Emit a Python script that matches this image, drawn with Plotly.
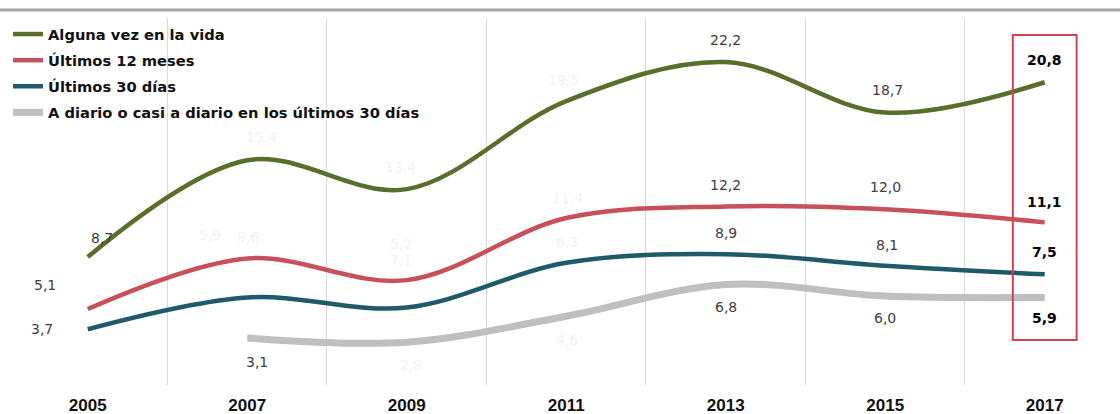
import plotly.graph_objects as go

# Survey years and prevalence (%) by consumption period
years = ["2005", "2007", "2009", "2011", "2013", "2015", "2017"]
alguna_vez = [8.7, 15.4, 13.4, 19.5, 22.2, 18.7, 20.8]
ultimos_12 = [5.1, 8.6, 7.1, 11.4, 12.2, 12.0, 11.1]
ultimos_30 = [3.7, 5.9, 5.2, 8.3, 8.9, 8.1, 7.5]
diario = [None, 3.1, 2.8, 4.6, 6.8, 6.0, 5.9]

series_names = [
    "Alguna vez en la vida",
    "Últimos 12 meses",
    "Últimos 30 días",
    "A diario o casi a diario en los últimos 30 días",
]
series_values = [alguna_vez, ultimos_12, ultimos_30, diario]
colors = ["#5A6E2C", "#C8505A", "#1F5A6B", "#BFBFBF"]
widths = [4.5, 4.5, 4.5, 7]

# Label placement (pixel offsets from each point) per series
label_offsets = [
    [(14, 19), (14, 23), (-6, 22), (-3, 21), (0, 22), (2, 23), (0, 22)],
    [(-43, 24), (1, 21), (-6, 20), (1, 20), (0, 21), (0, 22), (0, 20)],
    [(-46, 0), (-37, 62), (-6, 64), (1, 21), (0, 21), (2, 21), (0, 22)],
    [None, (10, -24), (4, -23), (1, -24), (0, -23), (0, -22), (0, -21)],
]
# Labels drawn nearly invisible (faded) in the original layout
faded = {(0, 1), (0, 2), (0, 3), (1, 1), (1, 2), (1, 3),
         (2, 1), (2, 2), (2, 3), (3, 2), (3, 3)}

fig = go.Figure()
for i, (name, vals) in enumerate(zip(series_names, series_values)):
    fig.add_trace(go.Scatter(
        x=years, y=vals, name=name, mode="lines",
        line=dict(color=colors[i], width=widths[i], shape="spline", smoothing=1),
        legendgroup=str(i), connectgaps=False,
    ))

annotations = []
for i, vals in enumerate(series_values):
    for j, v in enumerate(vals):
        if v is None:
            continue
        dx, dy = label_offsets[i][j]
        last = j == len(years) - 1
        if (i, j) in faded:
            col = "#F2F2F2"
        else:
            col = "#000000" if last else "#404040"
        txt = f"{v:.1f}".replace(".", ",")
        if last:
            txt = "<b>" + txt + "</b>"
        annotations.append(go.layout.Annotation(
            x=j, y=v, xref="x", yref="y", text=txt,
            showarrow=False, xshift=dx, yshift=dy,
            font=dict(family="DejaVu Sans", size=14, color=col),
        ))

fig.update_layout(
    width=1120, height=414,
    margin=dict(l=8, r=0, t=18, b=29),
    plot_bgcolor="white", paper_bgcolor="white",
    showlegend=True,
    legend=dict(
        x=0.0, y=1.0, xanchor="left", yanchor="top",
        font=dict(family="DejaVu Sans", size=14.7, color="#111111", weight="bold"),
        bgcolor="rgba(0,0,0,0)", tracegroupgap=4, itemwidth=30,
    ),
    xaxis=dict(
        type="category", range=[-0.5, 6.472], tickson="boundaries",
        showgrid=True, gridcolor="#D9D9D9", gridwidth=1,
        showline=False, zeroline=False, ticks="", ticklabelstandoff=8,
        tickfont=dict(family="'Liberation Sans Narrow', 'Liberation Sans', Arial, sans-serif",
                      size=17, color="#111111", weight="bold"),
    ),
    yaxis=dict(
        range=[-0.16, 25.25], showgrid=False, zeroline=False,
        showticklabels=False, showline=False,
    ),
    shapes=[
        # rule across the top of the chart
        dict(type="line", xref="paper", yref="paper", x0=-0.01, x1=1.0,
             y0=1.022, y1=1.022, line=dict(color="#A6A6A6", width=3)),
        # highlight box around the latest year
        dict(type="rect", xref="x", yref="y", x0=5.8, x1=6.2, y0=2.96, y1=24.08,
             line=dict(color="#C9474C", width=2), fillcolor="rgba(0,0,0,0)"),
    ],
)
for a in annotations:
    fig.add_annotation(a)

fig.write_html("out.html")
